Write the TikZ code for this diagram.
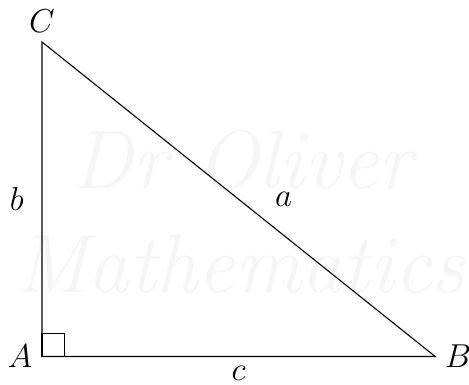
\documentclass[tikz,border=0pt]{standalone}
\usepackage{fontspec}
\usepackage{amsmath, amssymb}
\usetikzlibrary{
  positioning,
  calc
}
\tikzset{
  side/.style     = {draw, thin},
  vlabel/.style   = {font=\large, inner sep=3.3pt},
  slabel/.style   = {font=\large, inner sep=3.3pt},
  mark90/.style   = {draw, thin},
  wmark/.style    = {text=black!4, font=\fontsize{30}{36}\selectfont\itshape},
}
\begin{document}
\begin{tikzpicture}

\useasboundingbox (-0.534,-0.356) rectangle (5.43,4.534);

% watermark
\node[wmark] (wm1) at (2.55,2.5)  {Dr Oliver};
\node[wmark] (wm2) at (2.52,1.17) {Mathematics};

\coordinate (A) at (0,0);
\coordinate (B) at (5,0);
\coordinate (C) at (0,4);

\draw[side] (A) -- (B) -- (C) -- cycle;
\draw[mark90] (A) rectangle ($(A)+(0.29,0.29)$);

\node[vlabel, left=0pt of A]  (lA) {$A$};
\node[vlabel, right=0pt of B] (lB) {$B$};
\node[vlabel, above=0pt of C] (lC) {$C$};

\coordinate (mAC) at ($(A)!0.5!(C)$);
\coordinate (mBC) at ($(B)!0.5!(C)$);
\coordinate (mAB) at ($(A)!0.5!(B)$);

\node[slabel, left=1.1mm of mAC]     (lb) {$b$};
\node[slabel, right=3.4mm of mBC]    (la) {$a$};
\node[slabel, below=0pt of mAB]      (lc) {$c$};
\end{tikzpicture}
\end{document}
